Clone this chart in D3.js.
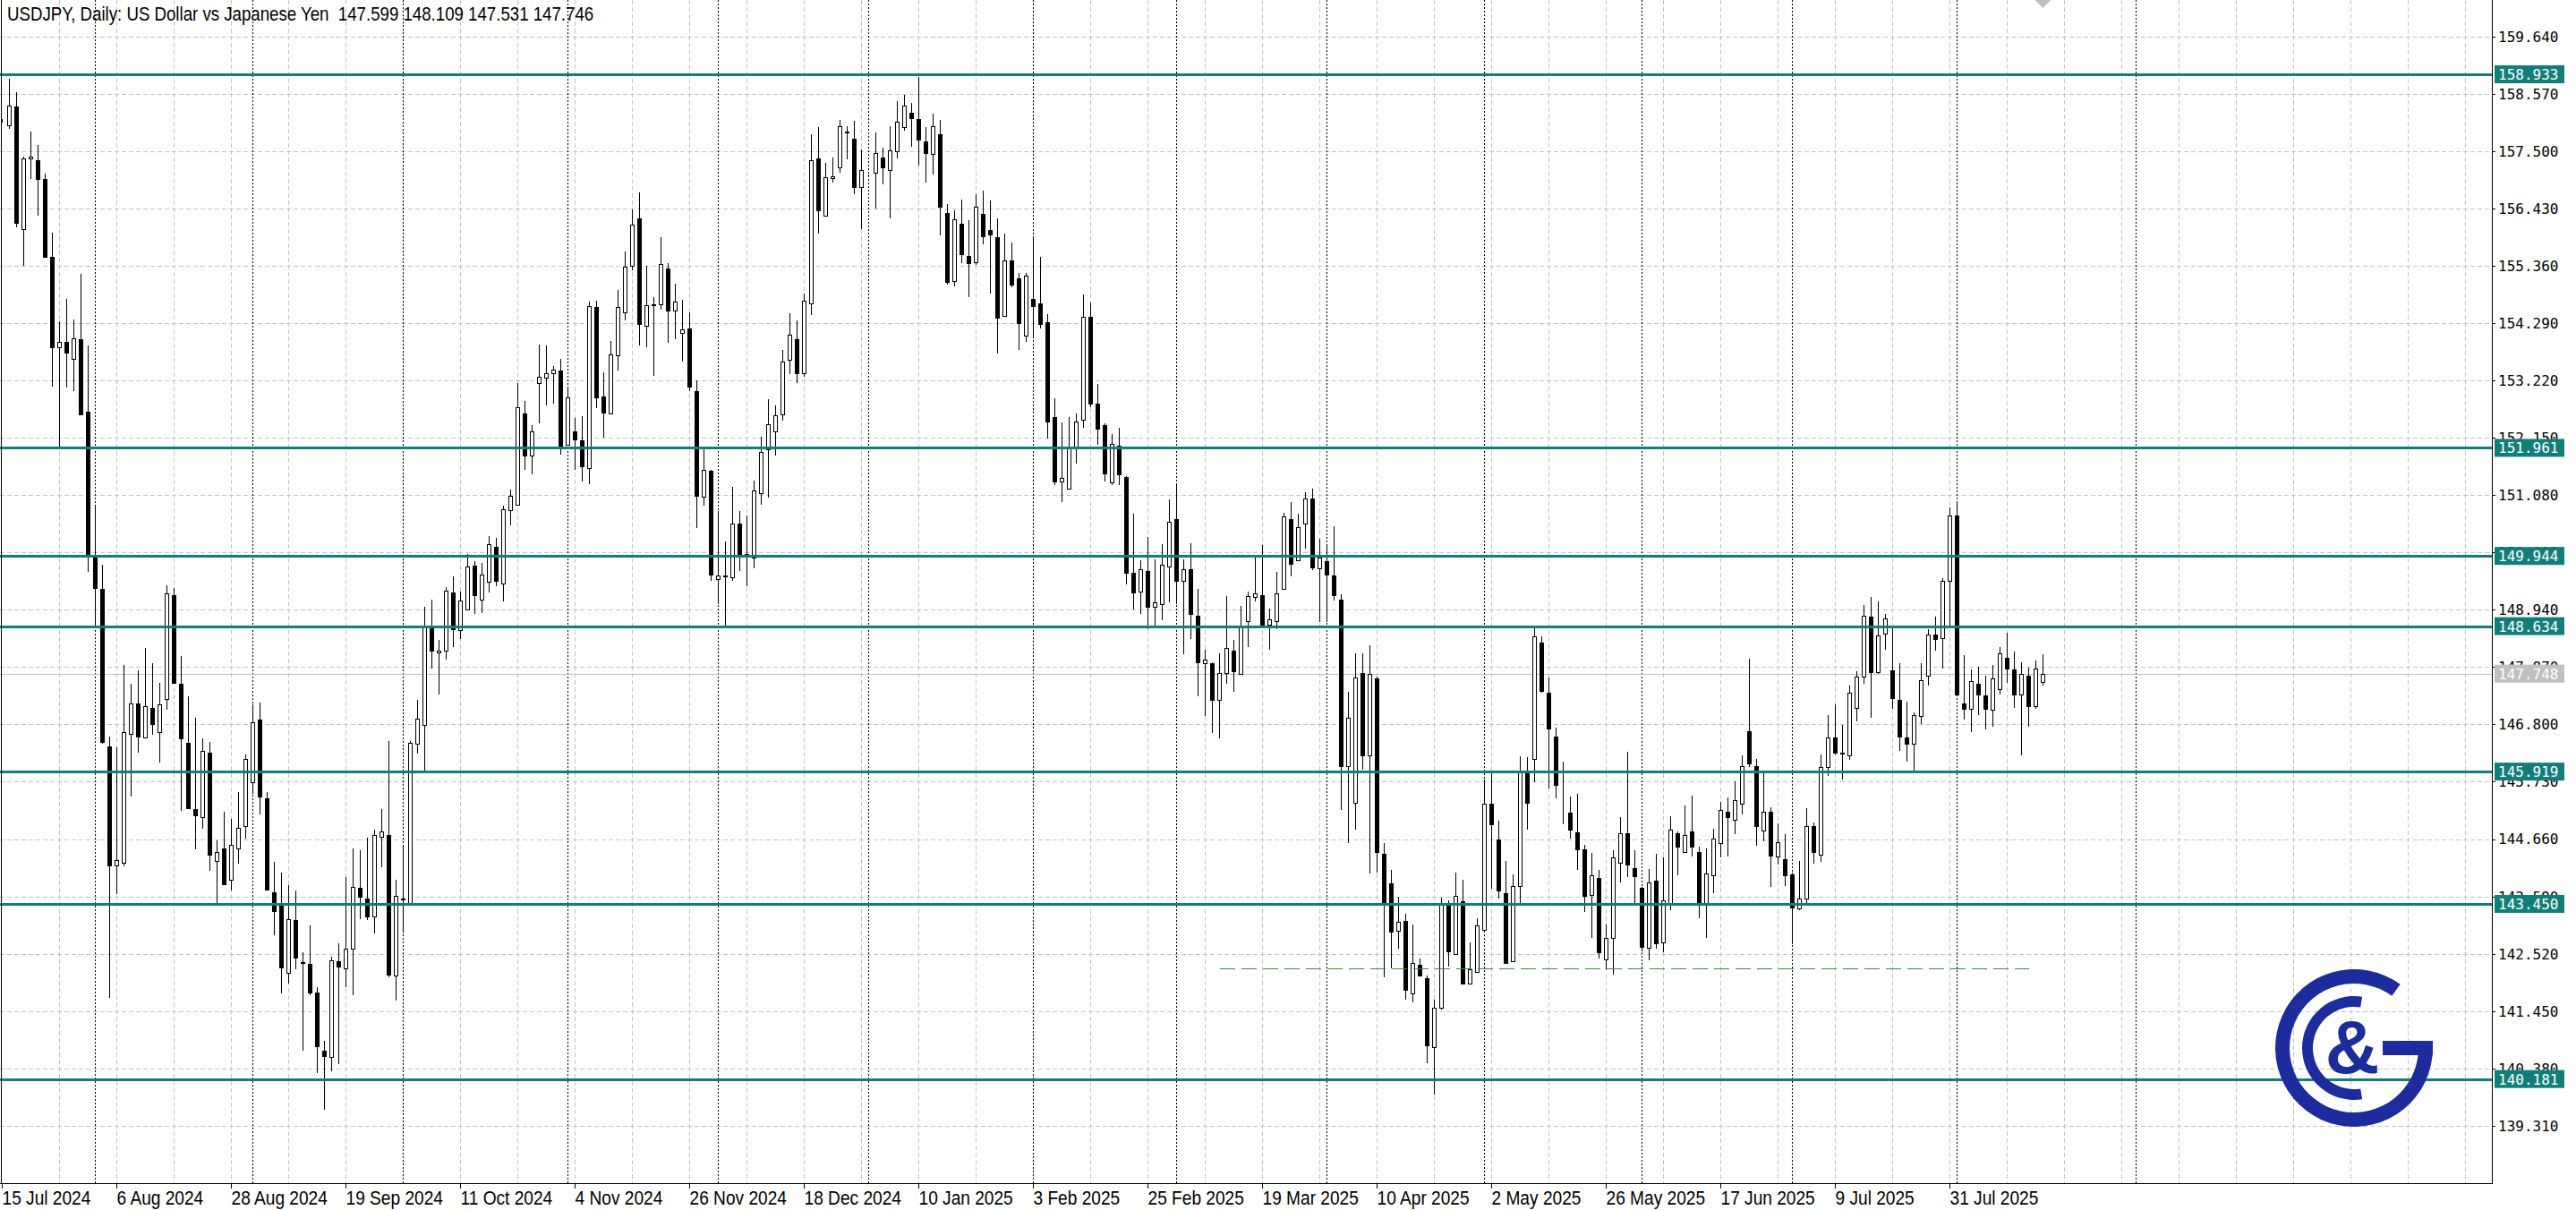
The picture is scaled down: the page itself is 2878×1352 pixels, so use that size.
<!DOCTYPE html>
<html><head><meta charset="utf-8">
<script src="https://cdn.jsdelivr.net/npm/d3@7"></script>
<style>
html,body{margin:0;padding:0;background:#fff;overflow:hidden;}
svg{display:block;}
</style></head><body>
<script>
// ---------- DATA ----------
const openP=[158.06,157.975,158.333,156.045,157.361,157.336,156.978,155.533,153.833,153.935,153.629,153.986,152.631,149.921,149.321,146.381,144.169,144.220,146.623,147.186,146.560,147.109,146.662,147.276,149.219,147.556,146.457,145.218,145.064,146.266,144.259,144.489,143.901,144.489,144.898,145.729,146.892,145.422,143.671,143.415,142.162,143.147,142.367,142.329,141.792,140.718,140.590,142.380,142.252,142.610,143.747,143.556,143.211,144.706,144.732,142.111,143.530,143.466,146.432,146.790,148.605,148.145,148.170,149.270,148.554,148.937,149.755,149.129,149.461,150.113,149.436,150.791,150.893,152.606,151.813,153.169,153.271,153.360,153.399,152.018,152.273,152.095,151.583,154.587,152.926,152.606,153.692,154.498,155.354,156.249,154.242,154.638,154.638,155.303,154.523,154.102,154.191,153.015,151.046,151.532,149.513,149.564,149.551,150.548,149.973,149.921,151.110,151.928,152.261,152.580,153.603,153.986,153.347,154.651,157.361,156.288,157.003,157.195,157.847,157.732,156.824,157.040,157.093,157.374,157.144,157.502,157.949,158.218,158.102,157.681,157.451,157.821,156.351,155.073,156.147,155.546,155.418,156.326,156.019,155.891,154.421,155.457,155.124,154.050,154.741,154.664,154.306,152.542,151.340,151.200,151.980,152.478,154.408,152.785,152.389,151.315,152.005,151.417,149.628,149.282,149.666,149.001,149.052,149.743,150.624,149.474,149.704,148.835,147.940,147.940,147.250,147.761,148.183,147.748,148.720,149.180,149.219,148.656,148.732,149.334,150.624,149.870,150.548,151.008,149.717,149.845,149.576,149.129,146.023,145.333,147.761,146.214,147.659,144.387,143.837,142.942,143.134,141.779,142.316,142.060,140.782,141.511,143.415,142.520,143.505,141.958,142.188,142.967,145.320,144.655,143.658,142.380,143.786,145.895,146.151,148.324,147.390,146.572,145.627,145.153,144.783,144.463,143.620,143.926,142.418,142.814,144.220,144.770,144.118,143.747,142.635,143.888,142.725,143.428,144.770,144.425,144.796,144.412,143.466,143.977,144.591,145.166,145.026,145.320,146.675,146.023,144.821,145.166,144.335,144.284,144.003,143.364,143.556,144.898,144.361,145.997,146.560,146.266,146.227,147.109,147.684,148.809,147.774,148.490,147.812,147.263,146.560,146.432,146.956,147.710,148.477,148.413,149.474,150.701,147.199,147.084,147.556,147.339,147.071,147.454,148.042,147.825,147.352,147.710,147.148,147.599];
const highP=[158.10,158.844,158.601,157.399,157.860,157.617,157.080,155.981,154.319,154.741,154.357,155.214,153.871,150.880,149.781,146.572,146.368,147.915,147.556,147.812,148.221,147.940,147.582,149.397,149.346,148.068,147.327,146.918,146.534,146.470,144.642,145.166,145.038,145.537,146.240,147.173,147.211,145.537,144.233,144.029,143.798,143.696,142.546,143.045,141.894,140.897,142.469,142.712,143.952,144.489,144.450,144.681,144.834,145.217,146.496,143.901,144.553,146.496,147.250,149.001,149.129,148.375,149.359,149.564,149.282,149.973,149.845,149.819,150.318,150.279,150.880,151.187,153.169,152.836,152.389,153.884,153.871,153.488,153.616,153.079,152.517,152.555,154.690,154.702,153.373,153.961,154.907,155.623,156.415,156.735,155.354,154.779,155.891,155.405,155.022,154.728,154.485,153.220,151.928,151.558,150.778,150.215,151.238,150.778,150.701,151.353,152.171,152.874,152.759,153.795,154.472,154.344,154.843,157.809,157.949,157.272,157.387,158.077,157.962,158.064,157.527,157.070,157.847,157.566,157.962,158.435,158.550,158.397,158.882,157.949,158.192,158.077,156.518,156.390,156.594,156.211,156.696,156.760,156.581,156.236,155.968,155.789,155.226,155.226,155.878,155.521,154.460,152.887,152.440,152.529,152.606,154.817,154.677,153.156,152.414,152.222,152.337,151.430,150.727,149.870,150.292,149.883,150.164,150.995,151.302,149.883,150.177,149.321,148.196,147.966,148.119,149.193,148.375,149.014,149.282,149.921,150.151,148.963,149.653,150.752,150.944,150.740,151.136,151.200,150.266,150.164,150.497,149.231,147.416,148.132,148.119,148.272,147.697,144.579,144.092,143.581,143.274,143.070,142.431,142.111,141.664,143.568,143.517,144.041,143.901,142.738,143.185,145.767,145.895,145.000,144.259,144.003,146.202,146.189,148.605,148.439,147.672,146.738,146.099,145.448,145.499,144.553,144.399,144.080,143.070,144.450,145.064,146.291,144.450,143.773,144.105,144.387,144.310,145.089,144.808,145.281,145.473,144.514,144.489,144.859,145.358,145.435,145.742,146.227,148.030,146.151,145.946,145.256,144.949,144.757,144.029,144.246,145.230,144.962,146.240,146.969,147.173,146.790,147.518,147.787,149.027,149.180,149.091,148.861,148.643,147.940,147.224,147.020,147.940,148.579,148.809,149.525,150.855,150.931,148.093,147.825,147.876,147.710,147.902,148.247,148.503,148.157,147.953,147.864,147.991,148.109];
const lowP=[158.03,157.911,156.070,155.354,156.978,156.288,155.533,153.104,151.980,153.092,153.028,152.593,149.640,148.643,146.432,141.689,143.632,144.156,145.448,146.278,146.560,146.598,146.087,147.071,147.582,145.192,145.230,144.463,144.847,144.067,143.466,143.824,143.696,144.207,144.668,145.512,145.115,143.709,142.865,141.779,141.958,142.226,140.705,141.741,140.296,139.606,140.334,140.462,141.894,141.741,143.172,143.147,142.891,144.131,142.085,141.651,142.929,143.466,146.253,145.933,147.850,147.352,148.004,148.247,148.388,148.937,148.861,148.873,149.257,149.372,149.091,150.510,150.893,151.558,151.468,152.414,152.747,152.785,151.839,152.005,151.545,151.340,151.289,152.695,152.159,152.606,153.411,154.344,155.278,153.871,153.846,153.309,154.536,153.923,153.986,153.565,153.015,150.458,150.880,149.474,149.052,148.643,149.474,149.666,149.372,149.717,150.906,151.034,151.813,152.465,153.334,153.168,153.283,154.447,155.968,156.288,156.914,157.093,157.348,156.697,156.045,157.010,156.428,156.876,156.249,157.361,157.885,157.578,157.233,156.914,157.067,155.930,155.009,154.971,155.405,154.779,155.367,155.763,154.843,153.718,154.421,154.958,153.795,153.935,153.999,154.191,152.133,151.264,150.944,151.200,151.660,152.337,152.721,152.018,151.328,151.264,151.264,149.410,148.937,148.861,148.579,148.643,148.745,149.078,149.052,148.106,148.388,147.327,146.956,146.636,146.547,147.556,147.416,147.748,148.247,149.091,148.669,148.196,148.579,149.334,149.564,149.870,150.088,149.679,148.707,148.707,149.116,145.205,144.579,144.834,145.959,144.016,144.029,142.073,142.239,142.610,141.664,141.613,142.098,140.475,139.887,141.472,142.277,142.520,141.958,141.958,142.162,142.929,143.734,143.543,142.354,142.380,143.466,144.834,145.729,147.390,145.601,145.422,144.936,144.668,144.092,143.300,142.814,142.431,142.226,142.124,143.850,143.952,143.466,142.571,142.405,142.610,142.546,143.338,143.977,144.412,144.335,143.185,142.814,143.658,144.310,144.335,144.744,145.128,146.010,144.527,144.617,143.760,144.182,143.786,142.699,143.338,143.466,144.195,144.233,145.831,146.240,145.767,146.138,146.854,147.556,146.918,147.748,148.196,147.084,146.304,146.113,145.895,146.815,147.531,148.170,147.838,148.643,147.352,146.892,146.649,146.982,146.700,146.751,147.365,147.582,147.109,146.214,146.751,147.084,147.531];
const closeP=[158.07,158.345,156.160,157.361,157.399,156.978,155.533,153.833,153.935,153.731,153.999,152.593,149.947,149.346,146.470,144.169,144.271,146.649,147.186,146.572,147.135,146.802,147.173,149.244,147.582,146.534,145.230,145.102,146.304,144.361,144.412,143.824,144.553,144.872,146.151,146.841,145.448,143.709,143.313,142.264,143.160,142.444,142.354,141.792,140.795,140.603,142.392,142.277,142.610,143.773,143.581,143.211,144.732,144.796,142.124,143.607,143.556,146.457,146.905,148.605,148.170,148.183,149.295,148.579,149.104,149.743,149.206,149.602,150.164,149.474,150.816,151.059,152.721,151.813,152.273,153.283,153.360,153.424,152.005,152.900,152.120,151.609,154.600,152.900,152.619,153.705,154.587,155.341,156.121,154.268,154.626,154.626,155.393,154.523,154.690,154.178,153.105,151.059,151.545,149.602,149.576,149.576,150.548,149.960,149.960,151.162,151.890,152.401,152.566,153.577,154.076,153.347,154.715,157.336,156.390,157.016,157.029,157.962,157.860,156.824,157.144,157.050,157.464,157.195,157.515,158.051,158.345,158.115,157.706,157.464,157.962,156.454,155.060,156.224,155.572,155.405,156.454,155.904,155.942,154.396,155.457,155.009,154.293,155.175,154.600,154.280,152.453,151.340,151.404,151.980,152.453,154.408,152.785,152.312,151.481,152.043,151.468,149.628,149.257,149.692,149.001,149.078,149.781,150.586,149.487,149.704,148.861,147.966,148.004,147.250,147.761,148.234,147.787,148.605,149.193,149.244,148.669,148.758,149.244,150.688,149.794,150.484,151.008,149.730,149.909,149.589,149.219,146.023,146.930,147.672,146.214,147.736,144.412,143.441,142.929,143.121,141.843,142.354,142.111,140.807,141.511,143.428,142.571,143.607,141.958,142.226,143.045,145.320,144.936,143.696,142.354,143.786,145.908,145.333,148.439,147.429,146.726,145.665,145.614,144.834,144.463,143.594,143.977,142.546,142.814,144.310,144.770,144.182,143.964,142.648,143.850,142.712,143.517,144.834,144.514,144.732,144.514,143.466,144.016,144.668,145.204,145.076,145.384,146.023,146.074,144.898,145.166,144.348,144.604,143.990,143.389,143.556,144.898,144.412,145.997,146.560,146.266,146.253,147.390,147.684,148.835,147.774,148.464,148.784,147.288,146.572,146.432,146.982,147.633,148.477,148.400,149.474,150.701,147.352,147.084,147.608,147.365,147.084,147.659,148.132,147.838,147.352,147.748,147.148,147.850,147.746];
const dateLabels=["15 Jul 2024","6 Aug 2024","28 Aug 2024","19 Sep 2024","11 Oct 2024","4 Nov 2024","26 Nov 2024","18 Dec 2024","10 Jan 2025","3 Feb 2025","25 Feb 2025","19 Mar 2025","10 Apr 2025","2 May 2025","26 May 2025","17 Jun 2025","9 Jul 2025","31 Jul 2025"];
const priceTicks=[159.640,158.570,157.500,156.430,155.360,154.290,153.220,152.150,151.080,150.010,148.940,147.870,146.800,145.730,144.660,143.590,142.520,141.450,140.380,139.310];
const levels=[158.933,151.961,149.944,148.634,145.919,143.450,140.181];
const currentPrice=147.748;
const monthStartBars=[13,35,56,79,100,121,144,164,185,207,229,250,273,298];
const supportPrice=142.24, supportFromBar=170, supportToBar=283;
const titleText="USDJPY, Daily: US Dollar vs Japanese Yen  147.599 148.109 147.531 147.746";

// ---------- LAYOUT ----------
const W=2878,H=1352,plotR=2784,plotB=1322;
const barsPerLabel=16, barsPerGrid=8;
const x=d3.scaleLinear().domain([0,1]).range([2.5,10.5]);
const y=d3.scaleLinear().domain([138.2382,160.3193]).range([plotB,0]);
const teal="#127e7a";

const svg=d3.select("body").append("svg").attr("width",W).attr("height",H)
  .style("font-family","'Liberation Sans',Arial,sans-serif");
svg.append("rect").attr("width",W).attr("height",H).attr("fill","#fff");
svg.append("defs").append("clipPath").attr("id","plotclip")
  .append("rect").attr("x",0).attr("y",0).attr("width",plotR).attr("height",plotB);

const plot=svg.append("g").attr("clip-path","url(#plotclip)").attr("shape-rendering","crispEdges");

// horizontal grid
plot.selectAll("line.hg").data(priceTicks).join("line").attr("class","hg")
  .attr("x1",0).attr("x2",plotR).attr("y1",d=>Math.round(y(d))+0.5).attr("y2",d=>Math.round(y(d))+0.5)
  .attr("stroke","#c4c4c4").attr("stroke-dasharray","5,3");
// vertical grid every 8 bars
const vg=d3.range(1,Math.floor((plotR-2.5)/64)+1).map(k=>k*barsPerGrid);
plot.selectAll("line.vg").data(vg).join("line").attr("class","vg")
  .attr("x1",d=>x(d)).attr("x2",d=>x(d)).attr("y1",0).attr("y2",plotB)
  .attr("stroke","#c4c4c4").attr("stroke-dasharray","5,3");
// month separators
plot.selectAll("line.ms").data(monthStartBars).join("line").attr("class","ms")
  .attr("x1",d=>x(d)).attr("x2",d=>x(d)).attr("y1",0).attr("y2",plotB)
  .attr("stroke","#000").attr("stroke-dasharray","2,2");

// current price line
plot.append("line").attr("x1",0).attr("x2",plotR)
  .attr("y1",Math.round(y(currentPrice))+0.5).attr("y2",Math.round(y(currentPrice))+0.5)
  .attr("stroke","#c0c0c0");

// candles
const bars=d3.range(openP.length).map(i=>({i,o:openP[i],h:highP[i],l:lowP[i],c:closeP[i]}));
const cg=plot.append("g");
cg.selectAll("line.wick").data(bars).join("line").attr("class","wick")
  .attr("x1",d=>x(d.i)).attr("x2",d=>x(d.i))
  .attr("y1",d=>Math.round(y(d.h))).attr("y2",d=>Math.round(y(d.l)))
  .attr("stroke","#000");
cg.selectAll("rect.body").data(bars).join("rect").attr("class","body")
  .attr("x",d=>x(d.i)-2).attr("width",4)
  .attr("y",d=>Math.round(y(Math.max(d.o,d.c)))+0.5)
  .attr("height",d=>Math.max(0,Math.round(y(Math.min(d.o,d.c)))-Math.round(y(Math.max(d.o,d.c)))))
  .attr("fill",d=>d.c>=d.o?"#fff":"#000").attr("stroke","#000");

// support dashed line
plot.append("line").attr("x1",x(supportFromBar)).attr("x2",x(supportToBar))
  .attr("y1",Math.round(y(supportPrice))+0.5).attr("y2",Math.round(y(supportPrice))+0.5)
  .attr("stroke","#3a8a3a").attr("stroke-dasharray","17,7");

// level lines
plot.selectAll("line.lv").data(levels).join("line").attr("class","lv")
  .attr("x1",0).attr("x2",plotR).attr("y1",d=>Math.round(y(d))).attr("y2",d=>Math.round(y(d)))
  .attr("stroke",teal).attr("stroke-width",3);

// frame
svg.append("g").attr("shape-rendering","crispEdges").call(g=>{
  g.append("line").attr("x1",1.5).attr("x2",1.5).attr("y1",0).attr("y2",plotB+1).attr("stroke","#000");
  g.append("line").attr("x1",0).attr("x2",plotR+1).attr("y1",plotB+0.5).attr("y2",plotB+0.5).attr("stroke","#000");
  g.append("line").attr("x1",plotR+0.5).attr("x2",plotR+0.5).attr("y1",0).attr("y2",plotB+1).attr("stroke","#000");
});

// bottom axis labels
const bl=svg.append("g");
bl.selectAll("line").data(dateLabels).join("line")
  .attr("x1",(d,k)=>x(k*barsPerLabel)).attr("x2",(d,k)=>x(k*barsPerLabel))
  .attr("y1",plotB).attr("y2",plotB+6).attr("stroke","#000").attr("shape-rendering","crispEdges");
bl.selectAll("text").data(dateLabels).join("text")
  .attr("transform",(d,k)=>`translate(${x(k*barsPerLabel)},${plotB+24}) scale(0.85,1)`)
  .attr("font-size",22.5).attr("fill","#000").text(d=>d);

// right axis labels
const ra=svg.append("g").style("font-family","'DejaVu Sans Mono',monospace").attr("font-size",16);
ra.selectAll("line").data(priceTicks).join("line")
  .attr("x1",plotR).attr("x2",plotR+4).attr("y1",d=>Math.round(y(d))+0.5).attr("y2",d=>Math.round(y(d))+0.5)
  .attr("stroke","#000").attr("shape-rendering","crispEdges");
ra.selectAll("text.tk").data(priceTicks).join("text").attr("class","tk")
  .attr("x",plotR+7).attr("y",d=>y(d)).attr("dy","0.37em").attr("fill","#000")
  .text(d=>d.toFixed(3));
const boxes=levels.map(v=>({v,fill:teal})).concat([{v:currentPrice,fill:"#c0c0c0"}]);
ra.selectAll("rect.bx").data(boxes).join("rect").attr("class","bx")
  .attr("x",plotR+3).attr("y",d=>y(d.v)-10).attr("width",78).attr("height",20).attr("fill",d=>d.fill);
ra.selectAll("text.bt").data(boxes).join("text").attr("class","bt")
  .attr("x",plotR+7).attr("y",d=>y(d.v)).attr("dy","0.37em").attr("fill","#fff")
  .text(d=>d.v.toFixed(3));

// title
svg.append("text").attr("transform","translate(8,23) scale(0.83,1)").attr("font-size",22.5)
  .style("white-space","pre").attr("fill","#000").text(titleText);

// shift marker triangle
svg.append("path").attr("d",`M${x(openP.length-1)-9},0L${x(openP.length-1)+9},0L${x(openP.length-1)},9Z`).attr("fill","#c0c0c0");

// logo
const lg=svg.append("g").attr("transform","translate(2630,1171)");
const navy="#1c2c9c";
lg.append("path").attr("d",d3.arc()({innerRadius:72,outerRadius:88,startAngle:Math.PI*0.5,endAngle:Math.PI*2.2})).attr("fill",navy);
lg.append("rect").attr("x",32).attr("y",-8).attr("width",56).attr("height",16).attr("fill",navy);
lg.append("path").attr("d",d3.arc()({innerRadius:46,outerRadius:58,startAngle:Math.PI*0.95,endAngle:Math.PI*2.05})).attr("fill",navy);
lg.append("text").attr("x",-2).attr("y",28).attr("text-anchor","middle").attr("font-size",84).attr("font-weight","bold").attr("fill",navy).text("&");
</script>
</body></html>
